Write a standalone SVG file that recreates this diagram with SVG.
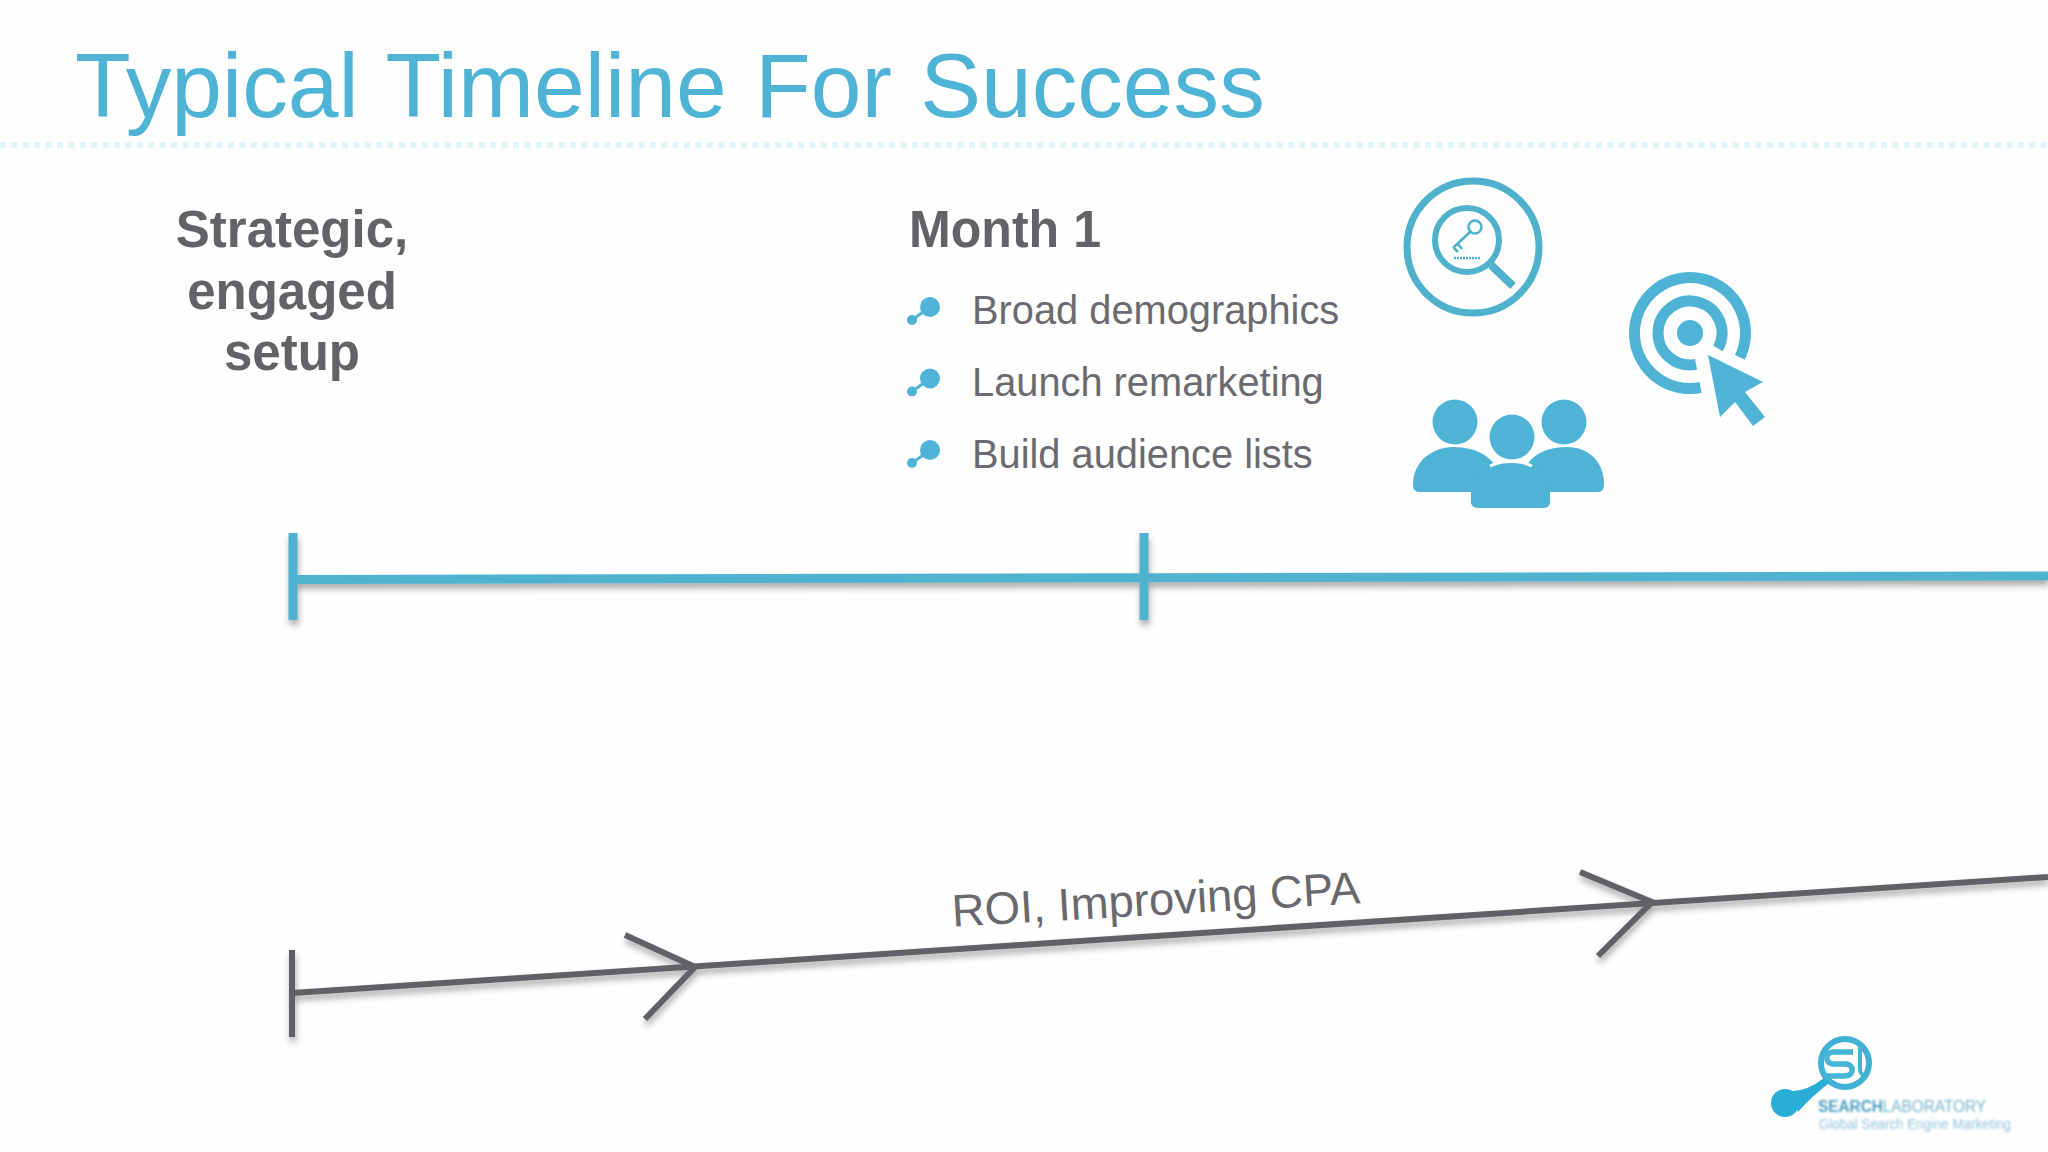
<svg xmlns="http://www.w3.org/2000/svg" width="2048" height="1152" viewBox="0 0 2048 1152">
<style>
text{font-family:"Liberation Sans",Arial,sans-serif}
.title{font-size:91.200px;fill:#4fb3d6;word-spacing:3px}
.head{font-size:51px;font-weight:bold;fill:#636266}
.item{font-size:39.800px;fill:#6b6a6e}
.blue{fill:#4fb3d6}
.ring{fill:none;stroke:#50b1cb;stroke-linecap:butt}
.bl{stroke:#50b3cf;fill:none}
.gr{stroke:#626166;fill:none;stroke-width:6}
</style>
<defs>
<filter id="sh" x="-5%" y="-50%" width="110%" height="200%"><feDropShadow dx="1" dy="5" stdDeviation="3" flood-color="#444" flood-opacity=".45"/></filter>
<filter id="soft" x="-10%" y="-10%" width="120%" height="120%"><feGaussianBlur stdDeviation=".7"/></filter>
<filter id="blur" x="-10%" y="-50%" width="120%" height="200%"><feGaussianBlur stdDeviation="1"/></filter>
<g id="bullet"><path d="M930 307L912 320" stroke="#4fb3d6" stroke-width="3"/><circle cx="930" cy="307" r="10" class="blue"/><circle cx="912" cy="320" r="5" class="blue"/></g>
</defs>
<rect width="2048" height="1152" fill="#fefefe"/>
<g id="title-group">
<text class="title" x="75" y="117">Typical Timeline For Success</text>
<path d="M0 145H2048" stroke="#dff4f9" stroke-width="6" stroke-dasharray="6 5.4"/>
</g>
<g id="setup-node">
<text class="head" text-anchor="middle" x="292" y="247">Strategic,</text>
<text class="head" text-anchor="middle" x="292" y="309">engaged</text>
<text class="head" text-anchor="middle" x="292" y="370">setup</text>
</g>
<g id="month1-node">
<text class="head" x="909" y="247" textLength="192" lengthAdjust="spacingAndGlyphs">Month 1</text>
<use href="#bullet"/><text class="item" x="972" y="324">Broad demographics</text>
<use href="#bullet" y="71.5"/><text class="item" x="972" y="396">Launch remarketing</text>
<use href="#bullet" y="143"/><text class="item" x="972" y="468">Build audience lists</text>
</g>
<g id="icon-search" filter="url(#soft)">
<circle cx="1473" cy="247" r="66" class="ring" stroke-width="7"/>
<circle cx="1467" cy="240" r="32" class="ring" stroke-width="6"/>
<path d="M1491 265L1513 286" class="ring" stroke-width="8"/>
<circle cx="1475" cy="227" r="6.500" class="ring" stroke-width="2.500"/>
<path d="M1470 232L1453 248M1458 244L1462 249M1454 248L1458 252" class="ring" stroke-width="2.500"/>
<path d="M1454 258H1480" class="ring" stroke-width="2.500" stroke-dasharray="2 1"/>
</g>
<g id="icon-target" filter="url(#soft)">
<path d="M1739.900 357.300A55.500 55.500 0 1 0 1700.600 387.500" class="ring" stroke-width="11" style="stroke:#4fb3d6"/>
<path d="M1718 348.500A32 32 0 1 0 1696.100 364.400" class="ring" stroke-width="11" style="stroke:#4fb3d6"/>
<circle cx="1690" cy="333" r="13" class="blue"/>
<path d="M1708 355L1763 382L1745 392L1765 417L1753 426L1735 402L1720 417Z" class="blue"/>
</g>
<g id="icon-people" filter="url(#soft)">
<circle cx="1455" cy="422" r="22.500" class="blue"/>
<circle cx="1564" cy="422" r="22.500" class="blue"/>
<path d="M1413 484C1413 462 1432 447 1453 447C1478 447 1495 458 1500 476V492H1419Q1413 492 1413 484Z" class="blue"/>
<path d="M1604 484C1604 462 1589 447 1567 447C1542 447 1527 458 1522 476V492H1598Q1604 492 1604 484Z" class="blue"/>
<path d="M1471 503V488C1473 472 1490 462 1511 462C1532 462 1548 472 1550 488V503Q1549 508 1543 508H1478Q1472 508 1471 503Z" class="blue"/>
<path d="M1490 466C1496 463 1503 461.500 1511 461.500C1519 461.500 1526 463 1532 466" fill="none" stroke="#fefefe" stroke-width="3"/>
<circle cx="1512" cy="437" r="22.500" class="blue"/>
</g>
<g id="logo" filter="url(#soft)">
<circle cx="1845" cy="1063" r="24" fill="none" stroke="#3fb0d5" stroke-width="6"/>
<path d="M1853 1052H1833Q1826 1053 1827 1059Q1828 1064 1834 1064H1846Q1853 1065 1852 1071Q1851 1076 1844 1076H1824" fill="none" stroke="#46b4d6" stroke-width="5.500"/>
<path d="M1860 1045V1069Q1860 1075 1866 1076" fill="none" stroke="#46b4d6" stroke-width="4"/>
<path d="M1790 1091Q1806 1092 1824 1078L1829 1083Q1810 1098 1798 1112Z" fill="#2badd5"/>
<circle cx="1785" cy="1103" r="14" fill="#2badd5"/>
<g filter="url(#blur)">
<text x="1818" y="1112" font-size="16" textLength="168" lengthAdjust="spacingAndGlyphs" fill="#78b4cf"><tspan font-weight="bold" fill="#4f9dc0">SEARCH</tspan>LABORATORY</text>
<text x="1819" y="1129" font-size="14" textLength="192" lengthAdjust="spacingAndGlyphs" fill="#94c6de">Global Search Engine Marketing</text>
</g>
</g>
<g id="connectors">
<g filter="url(#sh)" class="bl">
<path d="M293 533V620" stroke-width="9"/>
<path d="M1144 533V620" stroke-width="9"/>
<path d="M293 579.500L2048 576" stroke-width="9"/>
</g>
<g filter="url(#sh)" class="gr">
<path d="M292 950V1037"/>
<path d="M292 993L2048 877"/>
<path d="M625 935L695 967L645 1019"/>
<path d="M1580 872L1652 902L1598 956"/>
</g>
<text x="1156" y="915" text-anchor="middle" font-size="45.500" fill="#69686c" transform="rotate(-3.300 1156 900)">ROI, Improving CPA</text>
</g>
</svg>
